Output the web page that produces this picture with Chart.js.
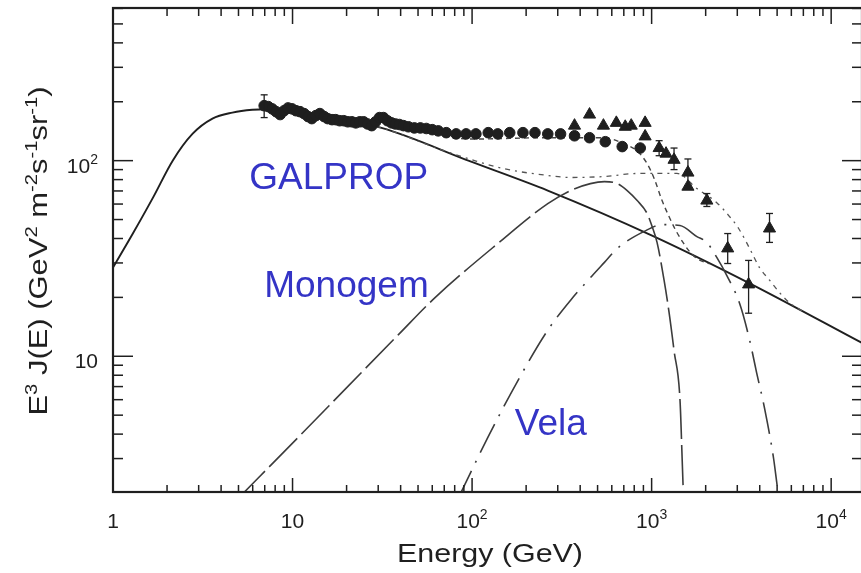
<!DOCTYPE html>
<html>
<head>
<meta charset="utf-8">
<script src="https://cdn.jsdelivr.net/npm/chart.js@4/dist/chart.umd.min.js"></script>
<style>
  html, body { margin: 0; padding: 0; background: #fff; overflow: hidden; }
  #wrap { width: 870px; height: 573px; }
</style>
</head>
<body>
<div id="wrap"><canvas id="spec" width="870" height="573"></canvas></div>
<script>
// Electron spectrum E^3 J(E): GALPROP background, Monogem and Vela sources, data points.

const galpropE = [1, 1.29, 1.67, 2.15, 2.77, 3.58, 4.62, 5.97, 7.13, 10, 31.3, 98.7, 264, 1006, 3514, 14850];
const galpropF = [28.4, 42.4, 64.7, 100, 137, 164, 176, 182, 183, 180, 147, 98.8, 70.3, 41.4, 23.6, 11.7];

const monogemE = [4.9, 10.9, 20.6, 38.9, 62.4, 139, 264, 353, 456, 546, 644, 731, 831, 944, 1006, 1072, 1173, 1250, 1333, 1439, 1495, 1510];
const monogemF = [1.85, 3.9, 7.1, 12.9, 20.0, 37.7, 60.3, 70.3, 76.3, 78.1, 76.3, 70.3, 62.5, 53.7, 46.1, 38.2, 24.5, 16.8, 10.7, 5.97, 2.25, 1.85];

const velaE = [83, 122.6, 187, 264, 353, 468, 546, 644, 909, 1143, 1439, 1787, 2029, 2306, 2620, 3092, 3514, 3840, 4254, 4774, 4957, 5120];
const velaF = [1.85, 3.86, 8.0, 13.6, 19.3, 25.9, 30.2, 35.6, 43.5, 47.1, 46.6, 40.9, 38.2, 32.0, 25.9, 18.6, 12.1, 8.28, 5.43, 3.02, 2.33, 1.85];

// background + Monogem
const totMonoE = [10, 31.3, 100, 264, 546, 700, 831, 944, 1034, 1143, 1250, 1363, 1495, 1627, 1787, 2100];
const totMonoF = [181, 157, 129, 131, 131, 122, 112, 96.5, 80.9, 62.5, 51.8, 44.0, 38.2, 34.3, 31.6, 29.7];

// background + Vela
const totVelaE = [10, 31.3, 65, 100, 150, 264, 353, 550, 831, 1384, 1787, 2306, 2688, 3053, 3514, 3990, 4536, 5152, 5848, 7000];
const totVelaF = [180, 147, 115, 101, 91, 84, 82, 83, 86, 86, 72, 61, 52.4, 45, 35.6, 28.4, 24.5, 21.2, 18.8, 16.9];

const circE = [6.95, 7.32, 7.70, 8.10, 8.53, 8.97, 9.44, 9.94, 10.46, 11.0, 11.6, 12.2, 12.8, 13.5, 14.2, 15.0, 15.7, 16.6, 17.4, 18.3,
  19.3, 20.3, 21.4, 22.5, 23.7, 24.9, 26.2, 27.6, 29.0, 30.5, 32.1, 33.8, 35.6, 37.4, 39.4, 41.5, 44.2, 47.7, 51.5, 55.6,
  60.0, 64.8, 71.8, 81.5, 92.6, 105, 123, 139, 162, 192, 224, 264, 311, 372, 451, 552, 686, 864];
const circF = [191, 189, 184, 178, 172, 180, 186, 184, 180, 178, 174, 168, 164, 170, 174, 168, 164, 162, 162, 160,
  160, 158, 158, 156, 158, 158, 154, 151, 158, 166, 166, 160, 156, 154, 153, 151, 149, 147, 147, 146,
  144, 142, 139, 137, 137, 137, 139, 137, 139, 139, 139, 137, 137, 134, 131, 125, 118, 116];
const circErrE = [6.95];
const circErrLo = [166];
const circErrHi = [217];

const triE = [372, 451, 539, 636, 713, 770, 920, 920, 1101, 1203, 1333, 1593, 1593, 2030, 2653, 3468, 4535];
const triF = [151, 172, 151, 156, 149, 151, 156, 133, 116, 108.6, 101, 86.9, 73.6, 62.5, 35.6, 23.3, 45.0];
const triLo = [null, null, null, null, null, null, null, null, 106, null, 90, 74.6, null, 58.3, 29.8, 16.6, 38.2];
const triHi = [null, null, null, null, null, null, null, null, 126.5, null, 116, 102, null, 67.9, 42.4, 30.9, 53.7];

const xTickVals = [1, 10, 100, 1000, 10000];
const xTickText = [["1", ""], ["10", ""], ["10", "2"], ["10", "3"], ["10", "4"]];
const yTickVals = [10, 100];
const yTickText = [["10", ""], ["10", "2"]];

const noteText = ["GALPROP", "Monogem", "Vela"];
const noteE = [5.74, 6.95, 173];
const noteF = [72, 20.0, 3.95];

const X_MIN = 1, X_MAX = 14850, Y_MIN = 2.024, Y_MAX = 603;
const INK = "#1f1f1f";
const FONT = '"Liberation Sans", Arial, Helvetica, sans-serif';

const pts = (xs, ys) => xs.map((x, i) => ({ x, y: ys[i] }));

// text runs with superscripts; parts = [[text, isSup], ...]
function drawRich(ctx, parts, x, y, o) {
  const size = o.size, sup = o.sup, rise = o.rise, stretch = o.stretch || 1;
  const widths = parts.map(([t, s]) => {
    ctx.font = `${s ? sup : size}px ${FONT}`;
    return ctx.measureText(t).width;
  });
  const total = widths.reduce((a, b) => a + b, 0);
  let cx = o.align === "right" ? -total : o.align === "center" ? -total / 2 : 0;
  ctx.save();
  ctx.translate(x, y);
  ctx.scale(stretch, 1);
  ctx.textBaseline = "alphabetic";
  ctx.textAlign = "left";
  parts.forEach(([t, s], i) => {
    ctx.font = `${s ? sup : size}px ${FONT}`;
    ctx.fillText(t, cx, s ? -rise : 0);
    cx += widths[i];
  });
  ctx.restore();
}

function seg(ctx, x1, y1, x2, y2) {
  ctx.beginPath();
  ctx.moveTo(x1, y1);
  ctx.lineTo(x2, y2);
  ctx.stroke();
}

const framePlugin = {
  id: "frame",
  afterDatasetsDraw(chart) {
    const { ctx, chartArea: a } = chart;
    const x = chart.scales.x, y = chart.scales.y;
    ctx.save();
    ctx.strokeStyle = INK;
    ctx.fillStyle = INK;

    // error bars
    ctx.lineWidth = 1.3;
    const bar = (e, lo, hi) => {
      const px = x.getPixelForValue(e);
      const p1 = y.getPixelForValue(lo), p2 = y.getPixelForValue(hi);
      seg(ctx, px, p1, px, p2);
      seg(ctx, px - 3.5, p1, px + 3.5, p1);
      seg(ctx, px - 3.5, p2, px + 3.5, p2);
    };
    circErrE.forEach((e, i) => bar(e, circErrLo[i], circErrHi[i]));
    triE.forEach((e, i) => { if (triLo[i] != null) bar(e, triLo[i], triHi[i]); });

    // frame
    ctx.lineWidth = 2.2;
    ctx.strokeRect(a.left, a.top, a.right - a.left, a.bottom - a.top);

    // inward ticks, log decades
    ctx.lineWidth = 1.5;
    for (let d = 0; d <= 4; d++) {
      for (let m = 1; m <= 9; m++) {
        const v = m * Math.pow(10, d);
        if (v < X_MIN || v > X_MAX) continue;
        const px = x.getPixelForValue(v);
        seg(ctx, px, a.bottom, px, a.bottom - (m === 1 ? 14 : 7));
        seg(ctx, px, a.top, px, a.top + (m === 1 ? 16 : 8));
      }
    }
    for (let d = 0; d <= 2; d++) {
      for (let m = 1; m <= 9; m++) {
        const v = m * Math.pow(10, d);
        if (v < Y_MIN || v > Y_MAX) continue;
        const py = y.getPixelForValue(v);
        seg(ctx, a.left, py, a.left + (m === 1 ? 20 : 10), py);
        seg(ctx, a.right, py, a.right - (m === 1 ? 20 : 10), py);
      }
    }

    // tick labels
    xTickVals.forEach((v, i) => {
      const [base, exp] = xTickText[i];
      drawRich(ctx, [[base, false], [exp, true]], x.getPixelForValue(v), a.bottom + 36,
        { size: 21, sup: 14, rise: 9, align: "center" });
    });
    yTickVals.forEach((v, i) => {
      const [base, exp] = yTickText[i];
      drawRich(ctx, [[base, false], [exp, true]], a.left - 15, y.getPixelForValue(v) + 12,
        { size: 21, sup: 14, rise: 9, align: "right" });
    });

    // axis titles
    drawRich(ctx, [["Energy (GeV)", false]], 490, 562, { size: 26, align: "center", stretch: 1.17 });
    ctx.save();
    ctx.translate(47, 251);
    ctx.rotate(-Math.PI / 2);
    drawRich(ctx, [["E", false], ["3", true], [" J(E) (GeV", false], ["2", true], [" m", false], ["-2", true],
      ["s", false], ["-1", true], ["sr", false], ["-1", true], [")", false]], 0, 0,
      { size: 26, sup: 17, rise: 10, align: "center", stretch: 1.19 });
    ctx.restore();

    // component names
    ctx.fillStyle = "#3434c6";
    noteText.forEach((t, i) => {
      drawRich(ctx, [[t, false]], x.getPixelForValue(noteE[i]), y.getPixelForValue(noteF[i]),
        { size: 37, align: "left" });
    });
    ctx.restore();
  }
};

const curve = (label, xs, ys, color, width, dash) => ({
  label, data: pts(xs, ys), showLine: true, borderColor: color, borderWidth: width,
  borderDash: dash, pointRadius: 0, cubicInterpolationMode: "monotone", fill: false
});

new Chart(document.getElementById("spec"), {
  type: "scatter",
  data: {
    datasets: [
      { label: "triangles", data: pts(triE, triF), pointStyle: "triangle", pointRadius: 7,
        backgroundColor: INK, borderColor: INK, borderWidth: 1 },
      { label: "circles", data: pts(circE, circF), pointStyle: "circle", pointRadius: 5.3,
        backgroundColor: INK, borderColor: INK, borderWidth: 1 },
      curve("GALPROP + Vela", totVelaE, totVelaF, "#555", 1.3, [5, 5, 2, 5]),
      curve("GALPROP + Monogem", totMonoE, totMonoF, "#444", 1.4, [5, 4]),
      curve("Vela", velaE, velaF, "#3c3c3c", 1.6, [32, 9, 2, 9]),
      curve("Monogem", monogemE, monogemF, "#3c3c3c", 1.6, [40, 6]),
      curve("GALPROP", galpropE, galpropF, "#1f1f1f", 1.9, [])
    ]
  },
  options: {
    responsive: false,
    animation: false,
    events: [],
    layout: { padding: { left: 113, top: 7, right: 4, bottom: 81 } },
    plugins: { legend: { display: false }, tooltip: { enabled: false } },
    scales: {
      x: { type: "logarithmic", min: X_MIN, max: X_MAX, display: false },
      y: { type: "logarithmic", min: Y_MIN, max: Y_MAX, display: false }
    }
  },
  plugins: [framePlugin]
});
</script>
</body>
</html>
